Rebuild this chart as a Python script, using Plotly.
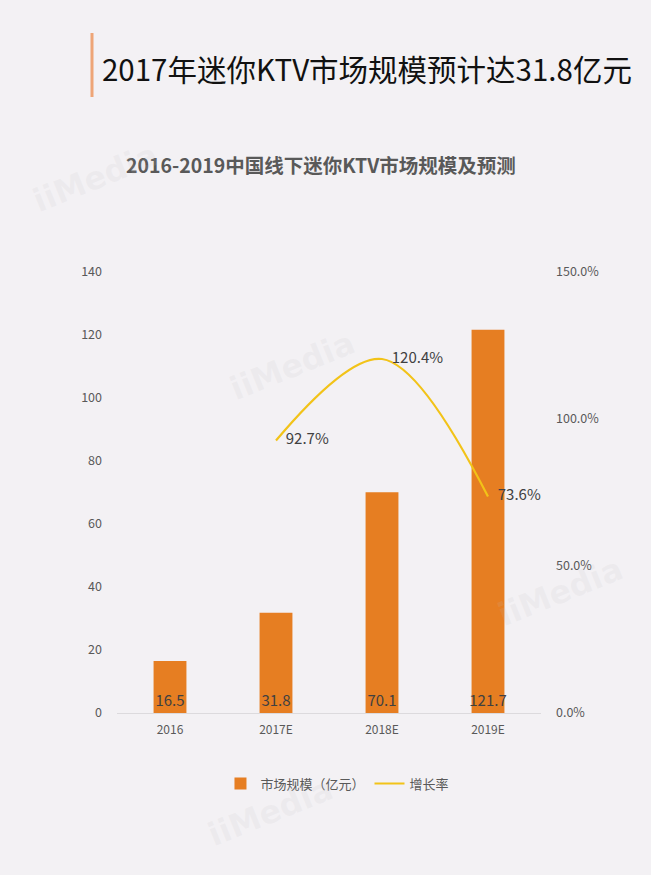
import plotly.graph_objects as go

categories = ["2016", "2017E", "2018E", "2019E"]
market_size = [16.5, 31.8, 70.1, 121.7]
growth_cats = ["2017E", "2018E", "2019E"]
growth_rate = [92.7, 120.4, 73.6]
left_ticks = [0, 20, 40, 60, 80, 100, 120, 140]
right_ticks = [0, 50, 100, 150]
right_tick_labels = ["0.0%", "50.0%", "100.0%", "150.0%"]

FONT = "Noto Sans CJK SC"
BG = "#f3f1f4"
BAR = "#e67e22"
LINE = "#f2c318"

fig = go.Figure()
fig.add_trace(go.Bar(
    x=categories, y=market_size, name="市场规模（亿元）",
    marker=dict(color=BAR, line=dict(width=0)), width=0.31,
    text=[f"{v:.1f}" for v in market_size], textposition="inside",
    insidetextanchor="start", textangle=0, constraintext="none",
    textfont=dict(family=FONT, size=15, color="#404040"),
    cliponaxis=False,
))
fig.add_trace(go.Scatter(
    x=growth_cats, y=growth_rate, name="增长率", yaxis="y2",
    mode="lines+markers+text",
    line=dict(color=LINE, width=2.2, shape="spline", smoothing=1.0),
    marker=dict(size=14, color="rgba(0,0,0,0)", line=dict(width=0)),
    text=[f"{v:.1f}%" for v in growth_rate], textposition="middle right",
    textfont=dict(family=FONT, size=15, color="#404040"),
    cliponaxis=False,
))

annotations = [
    dict(text="2017年迷你KTV市场规模预计达31.8亿元", xref="paper", yref="paper",
         x=-0.04, y=1.0, xanchor="left", yanchor="middle", showarrow=False,
         font=dict(family=FONT, size=29.5, color="#111111"), yshift=272 - 68),
    dict(text="<b>2016-2019中国线下迷你KTV市场规模及预测</b>", xref="paper", yref="paper",
         x=0.48, y=1.0, xanchor="center", yanchor="middle", showarrow=False,
         font=dict(family=FONT, size=19.5, color="#595959"), yshift=272 - 164),
]
for (px, py) in [(95, 178), (292, 366), (560, 592), (270, 812)]:
    annotations.append(dict(
        text="<b>iiMedia</b>", xref="paper", yref="paper",
        x=(px - 117) / 424, y=(713 - py) / 441, xanchor="center", yanchor="middle",
        showarrow=False, textangle=-22,
        font=dict(family="DejaVu Sans", size=32, color="rgba(190,190,195,0.13)"),
    ))

fig.update_layout(
    width=651, height=875,
    paper_bgcolor=BG, plot_bgcolor=BG,
    margin=dict(l=117, r=110, t=272, b=162),
    showlegend=True,
    legend=dict(orientation="h", x=0.52, y=-0.16, xanchor="center", yanchor="middle",
                font=dict(family=FONT, size=13, color="#595959"), bgcolor="rgba(0,0,0,0)",
                itemwidth=30),
    xaxis=dict(type="category", categoryorder="array", categoryarray=categories,
               showgrid=False, showline=True, linecolor="#dcdadd", linewidth=1,
               tickfont=dict(family=FONT, size=12, color="#595959"), ticks="",
               ticklabelstandoff=6),
    yaxis=dict(range=[0, 140], tickvals=left_ticks, showgrid=False, zeroline=False,
               tickfont=dict(family=FONT, size=12.5, color="#595959"),
               ticklabelstandoff=14),
    yaxis2=dict(range=[0, 150], tickvals=right_ticks, ticktext=right_tick_labels,
                overlaying="y", side="right", showgrid=False, zeroline=False,
                tickfont=dict(family=FONT, size=12.5, color="#595959"),
                ticklabelstandoff=14),
    annotations=annotations,
    shapes=[dict(type="line", xref="paper", yref="paper",
                 x0=-(117 - 92) / 424, x1=-(117 - 92) / 424,
                 y0=(713 - 33) / 441, y1=(713 - 97) / 441,
                 line=dict(color="#eea577", width=3))],
)
fig.write_html("out.html", config={"displayModeBar": False},
               post_script="document.body.style.margin='0';document.body.style.background='#f3f1f4';document.body.style.overflow='hidden';")
